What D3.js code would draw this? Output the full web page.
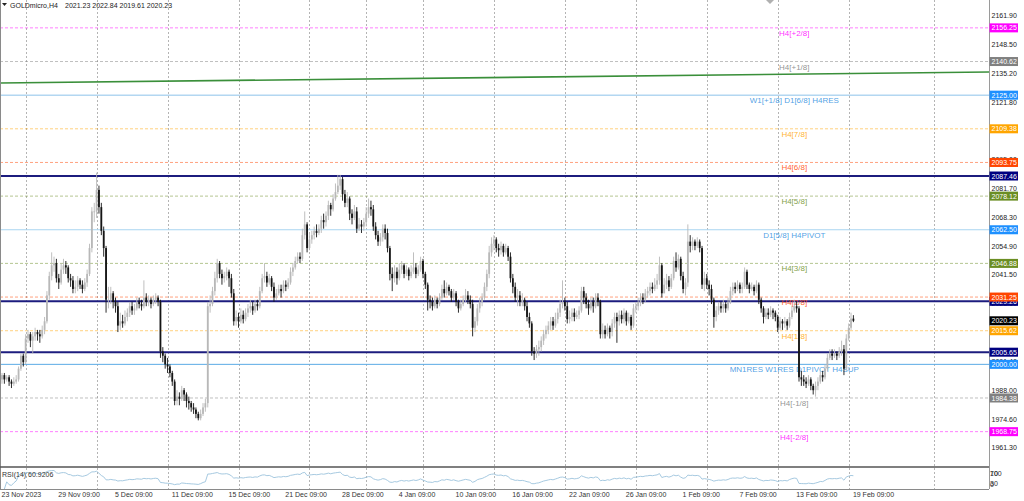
<!DOCTYPE html>
<html><head><meta charset="utf-8">
<script src="https://cdn.jsdelivr.net/npm/d3@7"></script>
<style>
html,body{margin:0;padding:0;background:#fff;overflow:hidden}
svg{display:block}
text{font-family:"Liberation Sans",Arial,sans-serif}
</style>
</head><body>
<svg id="chart" width="1024" height="501"></svg>
<script>
// ---------------- DATA ----------------
const symbolTitle = "GOLDmicro,H4";
const lastQuote = ["2021.23", "2022.84", "2019.61", "2020.23"];
const firstOpen = 1993;
const closes = [
1995,1993,1994,1992,1991,1992,1993,1998,2004,2001,
2012,2014,2011,2013,2015,2014,2013,2016,2020,2032,
2041,2046,2047,2040,2038,2044,2046,2045,2040,2039,
2035,2036,2039,2037,2035,2038,2042,2054,2071,2071,
2081,2073,2062,2054,2030,2030,2033,2029,2027,2018,
2020,2019,2022,2024,2027,2025,2026,2029,2028,2027,
2031,2029,2030,2028,2030,2031,2029,2006,2004,2000,
1999,1996,1992,1983,1985,1984,1988,1986,1983,1982,
1980,1979,1977,1975,1977,1980,1982,2027,2028,2034,
2040,2047,2042,2040,2041,2043,2040,2033,2020,2022,
2020,2023,2021,2024,2026,2027,2025,2028,2027,2034,
2040,2041,2038,2040,2036,2031,2033,2035,2034,2037,
2036,2038,2043,2045,2048,2050,2049,2060,2065,2054,
2058,2060,2062,2061,2063,2067,2066,2069,2074,2072,
2077,2080,2083,2086,2079,2075,2077,2070,2068,2071,
2063,2065,2064,2066,2070,2073,2072,2064,2060,2057,
2059,2063,2061,2054,2042,2040,2043,2040,2044,2046,
2042,2044,2041,2043,2045,2042,2044,2048,2042,2037,
2030,2029,2027,2030,2028,2031,2035,2033,2036,2034,
2031,2033,2029,2026,2028,2030,2032,2030,2028,2017,
2020,2026,2029,2031,2036,2042,2052,2056,2058,2054,
2053,2055,2052,2054,2050,2040,2036,2031,2032,2029,
2030,2027,2022,2019,2006,2005,2007,2008,2011,2014,
2016,2018,2020,2018,2021,2024,2028,2029,2027,2021,
2022,2024,2022,2023,2025,2034,2031,2028,2026,2029,
2027,2031,2029,2014,2016,2014,2017,2015,2019,2022,
2020,2023,2021,2024,2020,2022,2018,2026,2027,2029,
2031,2030,2033,2034,2036,2035,2037,2039,2046,2033,
2037,2039,2036,2040,2048,2045,2049,2041,2035,2038,
2057,2055,2057,2055,2057,2054,2037,2040,2037,2035,
2030,2022,2025,2027,2026,2028,2026,2029,2034,2036,
2035,2037,2035,2036,2043,2037,2035,2036,2034,2037,
2030,2026,2022,2024,2023,2025,2024,2022,2017,2020,
2019,2020,2018,2022,2025,2027,2026,1994,1993,1992,
1991,1993,1990,1988,1990,1992,1995,1994,1998,2003,
2005,2004,2005,2004,2006,2007,1998,2012,2017,2021.23,
2020.23];
const highs = [
1996,1996,1995,1995,1993,1994,1995,1999,2005,2005,
2014,2016,2015,2015,2017,2016,2016,2018,2022,2034,
2043,2052,2050,2049,2042,2047,2049,2048,2046,2042,
2041,2039,2041,2040,2039,2040,2044,2056,2073,2075,
2089,2083,2075,2064,2055,2036,2036,2034,2031,2029,
2024,2023,2025,2026,2029,2029,2028,2031,2031,2030,
2039,2033,2032,2031,2032,2033,2032,2030,2008,2005,
2003,2000,1997,1993,1988,1987,1990,1989,1987,1985,
1983,1982,1980,1978,1979,1982,1984,2029,2032,2036,
2043,2049,2048,2044,2043,2045,2044,2042,2035,2025,
2024,2026,2025,2026,2028,2030,2029,2030,2030,2036,
2042,2047,2043,2042,2041,2038,2035,2037,2037,2039,
2039,2040,2045,2047,2050,2052,2052,2063,2071,2066,
2061,2062,2064,2065,2065,2069,2070,2071,2076,2075,
2079,2084,2088,2088,2087,2081,2080,2078,2072,2074,
2073,2068,2067,2068,2073,2077,2076,2074,2066,2062,
2061,2065,2065,2063,2055,2045,2046,2045,2047,2048,
2047,2046,2045,2046,2052,2047,2046,2050,2049,2043,
2038,2032,2031,2032,2031,2033,2037,2039,2038,2037,
2035,2035,2034,2030,2030,2032,2035,2034,2032,2030,
2022,2028,2031,2033,2038,2044,2055,2059,2060,2059,
2056,2057,2056,2056,2055,2052,2042,2038,2035,2034,
2033,2031,2029,2024,2020,2008,2009,2011,2013,2016,
2018,2020,2022,2022,2024,2026,2030,2039,2031,2029,
2025,2026,2026,2025,2027,2036,2036,2033,2030,2031,
2031,2033,2033,2030,2019,2018,2019,2018,2021,2024,
2024,2025,2025,2026,2025,2024,2023,2028,2029,2031,
2033,2033,2035,2036,2038,2038,2040,2042,2050,2047,
2040,2042,2041,2042,2050,2052,2051,2050,2043,2040,
2065,2060,2059,2058,2059,2058,2055,2043,2042,2039,
2037,2031,2027,2029,2029,2030,2029,2031,2036,2038,
2038,2039,2038,2038,2045,2044,2038,2038,2037,2039,
2038,2031,2027,2026,2026,2027,2026,2025,2023,2022,
2021,2022,2021,2024,2027,2030,2029,2027,1997,1995,
1994,1995,1994,1991,1992,1994,1997,1997,2000,2005,
2007,2007,2007,2006,2008,2011,2009,2014,2019,2024,
2022.84];
const lows = [
1991,1991,1992,1990,1989,1990,1991,1992,1997,1999,
2000,2010,2008,2005,2011,2011,2010,2012,2014,2019,
2030,2039,2043,2038,2035,2037,2042,2042,2038,2036,
2033,2033,2034,2035,2033,2034,2036,2041,2052,2066,
2068,2070,2060,2050,2024,2026,2028,2026,2024,2015,
2016,2017,2018,2020,2022,2023,2023,2025,2026,2025,
2026,2027,2027,2026,2027,2028,2027,2003,2001,1998,
1996,1994,1990,1981,1981,1981,1983,1983,1980,1979,
1978,1977,1975,1974,1974,1976,1978,1980,2024,2027,
2032,2038,2040,2037,2038,2039,2036,2031,2018,2018,
2017,2019,2019,2020,2022,2024,2023,2024,2025,2026,
2033,2038,2036,2037,2034,2029,2030,2032,2031,2033,
2034,2035,2037,2041,2044,2047,2047,2048,2058,2052,
2053,2056,2058,2059,2060,2061,2063,2064,2067,2069,
2071,2076,2079,2081,2076,2073,2073,2067,2065,2067,
2061,2062,2061,2062,2064,2068,2069,2062,2058,2055,
2055,2057,2058,2052,2039,2034,2038,2037,2039,2042,
2040,2041,2039,2040,2042,2040,2041,2043,2040,2035,
2025,2026,2025,2026,2026,2027,2030,2031,2032,2032,
2029,2030,2027,2024,2025,2027,2029,2028,2026,2013,
2015,2018,2024,2027,2030,2034,2040,2050,2053,2052,
2050,2051,2050,2051,2048,2038,2033,2029,2027,2027,
2027,2025,2020,2017,2004,2002,2003,2004,2006,2009,
2012,2014,2016,2016,2017,2019,2022,2026,2025,2019,
2019,2020,2020,2021,2021,2024,2028,2026,2023,2025,
2024,2026,2027,2012,2012,2012,2013,2012,2013,2017,
2010,2018,2019,2019,2018,2019,2016,2017,2024,2025,
2027,2028,2029,2031,2032,2033,2034,2035,2037,2031,
2033,2035,2034,2035,2039,2043,2044,2039,2033,2032,
2036,2052,2053,2053,2054,2052,2035,2034,2035,2032,
2028,2017,2020,2023,2024,2024,2024,2025,2028,2032,
2033,2034,2033,2033,2035,2035,2033,2034,2032,2033,
2028,2024,2019,2021,2021,2022,2021,2020,2015,2016,
2016,2017,2016,2017,2021,2024,2024,1992,1990,1990,
1989,1990,1988,1986,1985,1988,1991,1992,1993,1997,
2002,2002,2003,2002,2003,2004,1995,1997,2011,2016,
2019.61];

const timeLabels = ["23 Nov 2023","29 Nov 09:00","5 Dec 09:00","11 Dec 09:00","15 Dec 09:00",
  "21 Dec 09:00","28 Dec 09:00","4 Jan 09:00","10 Jan 09:00","16 Jan 09:00","22 Jan 09:00",
  "26 Jan 09:00","1 Feb 09:00","7 Feb 09:00","13 Feb 09:00","19 Feb 09:00"];
const timeLabelBars = [0,24,48,72,96,120,144,168,192,216,240,264,288,312,336,360];
const weekSeparatorBars = [10,40,70,100,130,154,178,208,238,268,298,328,358,394];

const priceTicks = [2161.90,2148.50,2135.20,2121.80,2108.40,2095.00,2081.70,2068.30,
  2054.90,2041.50,2028.10,2014.70,2001.40,1988.00,1974.60,1961.30];

const levelValues = [2156.25,2140.62,2125.00,2109.38,2093.75,2087.46,2078.12,2062.50,
  2046.88,2031.25,2029.26,2015.62,2005.65,2000.00,1984.38,1968.75];
const levelNames = ["H4[+2/8]","H4[+1/8]","W1[+1/8] D1[6/8] H4RES","H4[7/8]","H4[6/8]","",
  "H4[5/8]","D1[5/8] H4PIVOT","H4[3/8]","H4[2/8]","","H4[1/8]","",
  "MN1RES W1RES D1PIVOT H4SUP","H4[-1/8]","H4[-2/8]"];
const levelKinds = ["dash","dash","pivot","dash","dash","sr","dash","pivot",
  "dash","dash","sr","dash","sr","pivot","dash","dash"];

const trendBars = [0, 360];
const trendPrices = [2130.66, 2135.05];

const rsiPeriod = 14;
const rsiTitle = "RSI(14) 60.9206";
const rsiAxisLabels = ["100","70","30","0"];
const rsiAxisValues = [100, 70, 30, 0];

// ---------------- STYLE ----------------
const levelColors = ["#ff00ff","#808080","#2f8fe0","#ffa500","#ff4500","#1c1c7e","#6b8e23","#2f8fe0",
  "#6b8e23","#ff4500","#1c1c7e","#ffa500","#1c1c7e","#2f8fe0","#808080","#ff00ff"];
const pivotLineColors = {2125: "#8cc2ea", 2062.5: "#a9d5f1", 2000: "#5aaae6"};
const bullColor = "#b8b8b8", bearColor = "#151515";

// ---------------- LAYOUT ----------------
const W = 1024, H = 501;
const plotRight = 989, mainBottom = 467, rsiTop = 467, rsiBottom = 489;
const labelBar = 335;

const svg = d3.select("#chart");
const x = d3.scaleLinear().domain([0, 360]).range([2, 2 + 360 * 2.365]);
const y = d3.scaleLinear().domain([1961.3, 2161.9]).range([447.7, 15.7]);
const yr = d3.scaleLinear().domain([0, 100]).range([489, 467.5]);

svg.append("rect").attr("width", W).attr("height", H).attr("fill", "#fff");

svg.append("defs").append("clipPath").attr("id", "mainClip")
  .append("rect").attr("x", 0).attr("y", 0).attr("width", plotRight).attr("height", mainBottom);
svg.select("defs").append("clipPath").attr("id", "rsiClip")
  .append("rect").attr("x", 0).attr("y", rsiTop).attr("width", plotRight).attr("height", rsiBottom - rsiTop);

// week separators (grid)
svg.append("g").selectAll("line").data(weekSeparatorBars).join("line")
  .attr("x1", d => Math.round(x(d)) + 0.5).attr("x2", d => Math.round(x(d)) + 0.5)
  .attr("y1", 0).attr("y2", rsiBottom)
  .attr("stroke", "#b4b4b4").attr("stroke-width", 1).attr("stroke-dasharray", "2,2");

// levels
const main = svg.append("g").attr("clip-path", "url(#mainClip)");
const levels = levelValues.map((v, i) => ({v, name: levelNames[i], kind: levelKinds[i], color: levelColors[i]}));

main.selectAll("line.lvl").data(levels).join("line").attr("class", "lvl")
  .attr("x1", 0).attr("x2", plotRight)
  .attr("y1", d => y(d.v)).attr("y2", d => y(d.v))
  .attr("stroke", d => d.kind === "pivot" ? pivotLineColors[d.v] : d.color)
  .attr("stroke-opacity", d => d.kind === "dash" ? 0.5 : 1)
  .attr("stroke-width", d => d.kind === "sr" ? 2 : 1)
  .attr("stroke-dasharray", d => d.kind === "dash" ? "3,2" : null);

// trend line (extended across plot)
const tSlope = (trendPrices[1] - trendPrices[0]) / (trendBars[1] - trendBars[0]);
const bLeft = x.invert(0), bRight = x.invert(plotRight);
main.append("line")
  .attr("x1", 0).attr("y1", y(trendPrices[0] + tSlope * (bLeft - trendBars[0])))
  .attr("x2", plotRight).attr("y2", y(trendPrices[0] + tSlope * (bRight - trendBars[0])))
  .attr("stroke", "#3a8f3a").attr("stroke-width", 1.6);

// level texts
main.selectAll("text.lvlt").data(levels.filter(d => d.name)).join("text").attr("class", "lvlt")
  .attr("x", x(labelBar)).attr("y", d => y(d.v) + 8)
  .attr("text-anchor", "middle").attr("font-size", 8)
  .attr("fill", d => d.color).attr("fill-opacity", 0.85)
  .text(d => d.name);

// candles
const bars = closes.map((c, i) => ({i, o: i === 0 ? firstOpen : closes[i - 1], h: highs[i], l: lows[i], c}));
const cg = main.append("g");
cg.selectAll("line").data(bars).join("line")
  .attr("x1", d => x(d.i)).attr("x2", d => x(d.i))
  .attr("y1", d => y(d.h)).attr("y2", d => y(d.l))
  .attr("stroke", d => d.c >= d.o ? bullColor : bearColor).attr("stroke-width", 0.9);
cg.selectAll("rect").data(bars).join("rect")
  .attr("x", d => x(d.i) - 0.9).attr("width", 1.8)
  .attr("y", d => y(Math.max(d.o, d.c)))
  .attr("height", d => Math.max(0.8, Math.abs(y(d.o) - y(d.c))))
  .attr("fill", d => d.c >= d.o ? bullColor : bearColor);

// RSI (Wilder)
function computeRSI(cl, n) {
  const out = [];
  let ag = 0, al = 0;
  for (let i = 1; i < cl.length; i++) {
    const d = cl[i] - cl[i - 1];
    const g = Math.max(d, 0), l = Math.max(-d, 0);
    const k = Math.min(i, n);
    ag = (ag * (k - 1) + g) / k;
    al = (al * (k - 1) + l) / k;
    out.push({i, v: al === 0 ? 100 : 100 - 100 / (1 + ag / al)});
  }
  return out;
}
const rsi = computeRSI(closes, rsiPeriod);
svg.append("g").attr("clip-path", "url(#rsiClip)").append("path").datum(rsi)
  .attr("d", d3.line().x(d => x(d.i)).y(d => yr(d.v)))
  .attr("fill", "none").attr("stroke", "#9cc3dc").attr("stroke-width", 0.9);

// frame
svg.append("line").attr("x1", 0.5).attr("x2", 0.5).attr("y1", 0).attr("y2", rsiBottom).attr("stroke", "#8a8a8a");
svg.append("line").attr("x1", plotRight + 0.5).attr("x2", plotRight + 0.5).attr("y1", 0).attr("y2", rsiBottom).attr("stroke", "#9a9a9a");
svg.append("line").attr("x1", 0).attr("x2", plotRight).attr("y1", mainBottom).attr("y2", mainBottom).attr("stroke", "#555").attr("stroke-width", 1.5);
svg.append("line").attr("x1", 0).attr("x2", plotRight).attr("y1", rsiBottom + 0.5).attr("y2", rsiBottom + 0.5).attr("stroke", "#8a8a8a");

// price axis tick labels
svg.append("g").selectAll("text").data(priceTicks).join("text")
  .attr("x", 991.5).attr("y", d => y(d) + 2.5).attr("font-size", 7).attr("fill", "#222")
  .text(d => d3.format(".2f")(d));

// level boxes on axis (low → high so higher boxes sit on top)
const boxes = levels.slice().sort((a, b) => a.v - b.v);
const bg = svg.append("g");
boxes.forEach(d => {
  const g = bg.append("g");
  const col = d.kind === "pivot" ? "#1e90ff" : (d.kind === "sr" ? "#000080" : d.color);
  g.append("rect").attr("x", 989.5).attr("y", y(d.v) - 4.5).attr("width", 28.5).attr("height", 9).attr("fill", col);
  g.append("text").attr("x", 991.5).attr("y", y(d.v) + 2.6).attr("font-size", 7).attr("fill", "#fff")
    .text(d3.format(".2f")(d.v));
});
// current price box
const last = closes[closes.length - 1];
bg.append("rect").attr("x", 989.5).attr("y", y(last) - 4.5).attr("width", 28.5).attr("height", 9).attr("fill", "#000");
bg.append("text").attr("x", 991.5).attr("y", y(last) + 2.6).attr("font-size", 7).attr("fill", "#fff").text(d3.format(".2f")(last));

// RSI axis labels
svg.append("g").selectAll("text").data(rsiAxisValues).join("text")
  .attr("x", 990).attr("y", (d, i) => [475.5, 476, 486, 486.5][i])
  .attr("font-size", 7).attr("fill", "#333").text((d, i) => rsiAxisLabels[i]);
svg.append("text").attr("x", 2).attr("y", 476.5).attr("font-size", 7).attr("fill", "#333").text(rsiTitle);

// time axis labels
svg.append("g").selectAll("text").data(timeLabels).join("text")
  .attr("x", (d, i) => x(timeLabelBars[i]) - 0.5).attr("y", 497)
  .attr("font-size", 7).attr("fill", "#333").text(d => d);

// header
svg.append("path").attr("d", "M2,3 L7,3 L4.5,6 Z").attr("fill", "#222");
svg.append("text").attr("x", 10).attr("y", 7.5).attr("font-size", 7).attr("fill", "#222").text(symbolTitle);
svg.append("text").attr("x", 65).attr("y", 7.5).attr("font-size", 7).attr("fill", "#222").text(lastQuote.join(" "));
// chart shift marker
svg.append("path").attr("d", "M766,0 L774,0 L770,4 Z").attr("fill", "#b0b0b0");
</script>
</body></html>
